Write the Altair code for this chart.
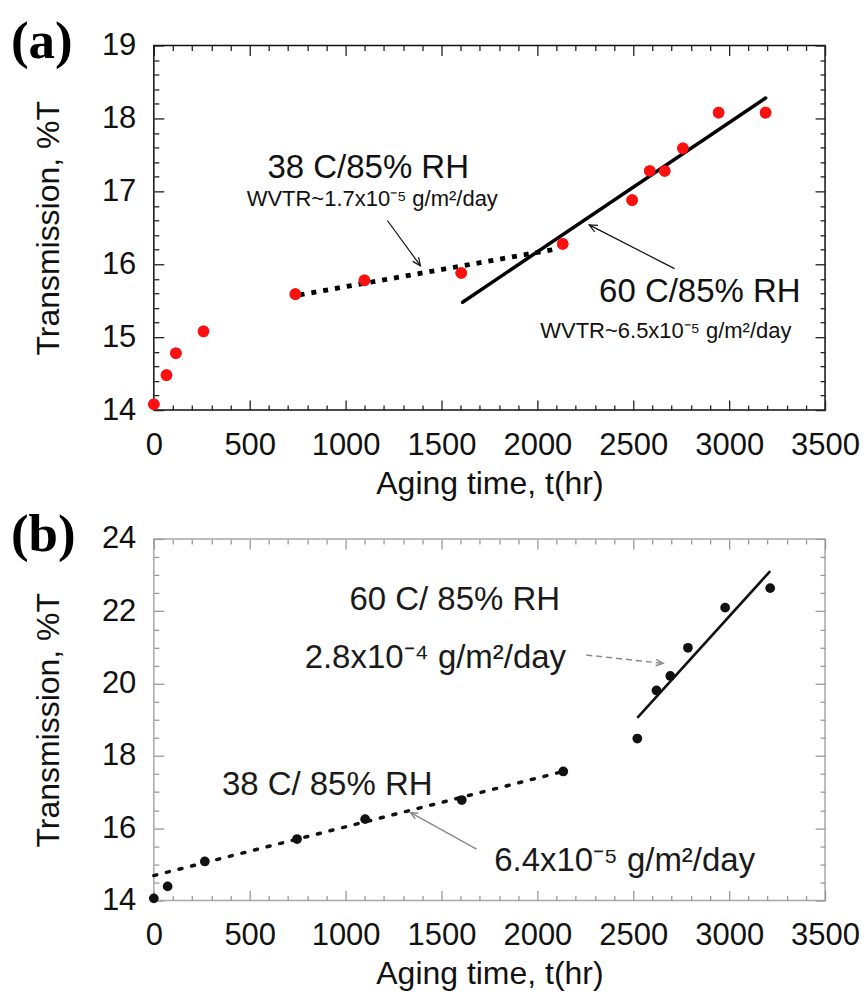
import math
import altair as alt
import pandas as pd

# ---------------- data: panel (a) ----------------
a_time = [0, 66, 115, 259, 738, 1098, 1603, 2132, 2494, 2586, 2664, 2759, 2945, 3190]
a_trans = [14.08, 14.48, 14.78, 15.08, 15.59, 15.78, 15.88, 16.28, 16.88, 17.28, 17.28, 17.59, 18.08, 18.08]
a_fit38_time = [760, 2080]
a_fit38_trans = [15.58, 16.20]
a_fit60_time = [1610, 3190]
a_fit60_trans = [15.48, 18.28]
a_big_text = ["38 C/85% RH", "60 C/85% RH"]
a_big_x = [1118, 2847]
a_big_y = [17.32, 15.62]
a_small_text = ["WVTR~1.7x10\u207b\u2075 g/m\u00b2/day", "WVTR~6.5x10\u207b\u2075 g/m\u00b2/day"]
a_small_x = [1139, 2670]
a_small_y = [16.90, 15.08]
a_arrow_from_x = [1218, 2715]
a_arrow_from_y = [16.60, 15.94]
a_arrow_to_x = [1390, 2270]
a_arrow_to_y = [15.98, 16.54]

# ---------------- data: panel (b) ----------------
b_time = [0, 72, 266, 747, 1102, 1606, 2135, 2521, 2621, 2693, 2785, 2979, 3214]
b_trans = [14.06, 14.39, 15.08, 15.70, 16.25, 16.78, 17.57, 18.48, 19.81, 20.21, 20.99, 22.10, 22.64]
b_fit38_time = [0, 2135]
b_fit38_trans = [14.69, 17.57]
b_fit60_time = [2521, 3214]
b_fit60_trans = [19.05, 23.11]
b_text = ["60 C/ 85% RH", "2.8x10\u207b\u2074 g/m\u00b2/day", "38 C/ 85% RH", "6.4x10\u207b\u2075 g/m\u00b2/day"]
b_text_x = [1569, 1468, 904, 2455]
b_text_y = [22.30, 20.70, 17.20, 15.10]
b_arrow_from_x = [2255, 1683]
b_arrow_from_y = [20.79, 15.42]
b_arrow_to_x = [2655, 1339]
b_arrow_to_y = [20.56, 16.43]

x_ticks = [0, 500, 1000, 1500, 2000, 2500, 3000, 3500]
x_minor = [100, 200, 300, 400, 600, 700, 800, 900, 1100, 1200, 1300, 1400, 1600, 1700, 1800, 1900,
           2100, 2200, 2300, 2400, 2600, 2700, 2800, 2900, 3100, 3200, 3300, 3400]
a_y_ticks = [14, 15, 16, 17, 18, 19]
a_y_minor = [14.2, 14.4, 14.6, 14.8, 15.2, 15.4, 15.6, 15.8, 16.2, 16.4, 16.6, 16.8,
             17.2, 17.4, 17.6, 17.8, 18.2, 18.4, 18.6, 18.8]
b_y_ticks = [14, 16, 18, 20, 22, 24]
b_y_minor = [14.5, 15, 15.5, 16.5, 17, 17.5, 18.5, 19, 19.5, 20.5, 21, 21.5, 22.5, 23, 23.5]

# ---------------- layout / style ----------------
W = 672
HA = 365
HB = 362
XMAX = 3500
NARROW = "Liberation Sans Narrow, Arial Narrow, Liberation Sans, sans-serif"
SANS = "Liberation Sans, Arial, Helvetica, sans-serif"
SERIF = "Liberation Serif, Times New Roman, serif"

xscale = alt.Scale(domain=[0, XMAX], nice=False, zero=False)
ya_scale = alt.Scale(domain=[14, 19], nice=False, zero=False)
yb_scale = alt.Scale(domain=[14, 24], nice=False, zero=False)

ARROW_PATH = "M -0.45 1 L 0 0 L 0.45 1"

X_AXIS = alt.Axis(values=x_ticks, title="Aging time, t(hr)", format="d", labelPadding=20,
                  titlePadding=8, labelFlush=False, labelOverlap=False)
YA_AXIS = alt.Axis(values=a_y_ticks, title="Transmission, %T", format="d", labelPadding=18,
                   titlePadding=36, labelFlush=False, labelOverlap=False)
YB_AXIS = alt.Axis(values=b_y_ticks, title="Transmission, %T", format="d", labelPadding=18,
                   titlePadding=36, labelFlush=False, labelOverlap=False)


def tick_axis(orient, values, size, color):
    """Ticks-only axis pulled inside the frame, so its ticks point inward."""
    return alt.Axis(orient=orient, values=values, labels=False, ticks=True, tickSize=size,
                    offset=-size, domain=False, grid=False, title=None,
                    tickColor=color, tickWidth=1.3)


def X(field, axis=None):
    if axis is None:
        return alt.X(field, type="quantitative", scale=xscale, axis=None)
    return alt.X(field, type="quantitative", scale=xscale, axis=axis)


def Y(field, yscale, axis=None):
    if axis is None:
        return alt.Y(field, type="quantitative", scale=yscale, axis=None)
    return alt.Y(field, type="quantitative", scale=yscale, axis=axis)


def tick_layers(df, yscale, ymaj, ymin_list, color):
    specs = [
        ("bottom", x_ticks, "left", ymaj, 10),
        ("bottom", x_minor, "left", ymin_list, 5),
        ("top", x_ticks, "right", ymaj, 10),
        ("top", x_minor, "right", ymin_list, 5),
    ]
    out = []
    for xo, xv, yo, yv, sz in specs:
        out.append(
            alt.Chart(df).mark_circle(opacity=0, size=1).encode(
                x=X("t", tick_axis(xo, xv, sz, color)),
                y=Y("T", yscale, tick_axis(yo, yv, sz, color))))
    return out


def arrows(fx, fy, tx, ty, yspan, H):
    rows_line = []
    rows_head = []
    sx = W / XMAX
    sy = H / yspan
    for i in range(len(fx)):
        rows_line.append({"id": i, "o": 0, "x": fx[i], "y": fy[i]})
        rows_line.append({"id": i, "o": 1, "x": tx[i], "y": ty[i]})
        dxp = (tx[i] - fx[i]) * sx
        dyp = -(ty[i] - fy[i]) * sy
        ang = math.degrees(math.atan2(dxp, -dyp)) % 360
        rows_head.append({"x": tx[i], "y": ty[i], "angle": ang})
    return pd.DataFrame(rows_line), pd.DataFrame(rows_head)


# ---------------- panel (a) ----------------
pa = pd.DataFrame({"t": a_time, "T": a_trans})
fa38 = pd.DataFrame({"t": a_fit38_time, "T": a_fit38_trans})
fa60 = pd.DataFrame({"t": a_fit60_time, "T": a_fit60_trans})
ta_big = pd.DataFrame({"x": a_big_x, "y": a_big_y, "s": a_big_text})
ta_small = pd.DataFrame({"x": a_small_x, "y": a_small_y, "s": a_small_text})
la, ha = arrows(a_arrow_from_x, a_arrow_from_y, a_arrow_to_x, a_arrow_to_y, 5, HA)


def YA(field):
    return Y(field, ya_scale)


a_layers = [
    alt.Chart(pa).mark_circle(color="#ff1010", size=135, opacity=1).encode(
        x=X("t", X_AXIS), y=Y("T", ya_scale, YA_AXIS)),
]
a_layers += tick_layers(pa, ya_scale, a_y_ticks, a_y_minor, "#222222")
a_layers += [
    alt.Chart(fa38).mark_line(color="black", strokeWidth=4.8, strokeDash=[5, 7]).encode(
        x=X("t"), y=YA("T")),
    alt.Chart(fa60).mark_line(color="black", strokeWidth=3.5, strokeCap="round").encode(
        x=X("t"), y=YA("T")),
    alt.Chart(la).mark_line(color="#111111", strokeWidth=1.2).encode(
        x=X("x"), y=YA("y"), detail="id:N", order="o:Q"),
    alt.Chart(ha).mark_point(shape=ARROW_PATH, filled=False, color="#111111", size=260,
                             strokeWidth=1.2, opacity=1).encode(
        x=X("x"), y=YA("y"), angle=alt.Angle("angle:Q", scale=None)),
    alt.Chart(pa).mark_circle(color="#ff1010", size=135, opacity=1).encode(
        x=X("t"), y=YA("T")),
    alt.Chart(ta_big).mark_text(font=NARROW, fontSize=33, color="#111111").encode(
        x=X("x"), y=YA("y"), text="s:N"),
    alt.Chart(ta_small).mark_text(font=NARROW, fontSize=22, color="#111111").encode(
        x=X("x"), y=YA("y"), text="s:N"),
    alt.Chart(pd.DataFrame({"s": ["(a)"]})).mark_text(
        font=SERIF, fontWeight="bold", fontSize=53, align="left", baseline="middle", color="black").encode(
        x=alt.value(-143), y=alt.value(-4), text="s:N"),
]
chart_a = alt.layer(*a_layers).resolve_axis(x="independent", y="independent").properties(
    width=W, height=HA, view=alt.ViewBackground(stroke="#111111", strokeWidth=1.5))

# ---------------- panel (b) ----------------
pb = pd.DataFrame({"t": b_time, "T": b_trans})
fb38 = pd.DataFrame({"t": b_fit38_time, "T": b_fit38_trans})
fb60 = pd.DataFrame({"t": b_fit60_time, "T": b_fit60_trans})
tb = pd.DataFrame({"x": b_text_x, "y": b_text_y, "s": b_text})
lb, hb = arrows(b_arrow_from_x, b_arrow_from_y, b_arrow_to_x, b_arrow_to_y, 10, HB)
lb_dash = lb[lb["id"] == 0]
lb_solid = lb[lb["id"] == 1]


def YB(field):
    return Y(field, yb_scale)


b_layers = [
    alt.Chart(pb).mark_circle(color="#111111", size=95, opacity=1).encode(
        x=X("t", X_AXIS), y=Y("T", yb_scale, YB_AXIS)),
]
b_layers += tick_layers(pb, yb_scale, b_y_ticks, b_y_minor, "#9a9a9a")
b_layers += [
    alt.Chart(fb38).mark_line(color="#111111", strokeWidth=3.5, strokeDash=[3, 10], strokeCap="round").encode(
        x=X("t"), y=YB("T")),
    alt.Chart(fb60).mark_line(color="#111111", strokeWidth=2.6).encode(
        x=X("t"), y=YB("T")),
    alt.Chart(lb_dash).mark_line(color="#8a8a8a", strokeWidth=1.5, strokeDash=[6, 4]).encode(
        x=X("x"), y=YB("y"), order="o:Q"),
    alt.Chart(lb_solid).mark_line(color="#8a8a8a", strokeWidth=1.5).encode(
        x=X("x"), y=YB("y"), order="o:Q"),
    alt.Chart(hb).mark_point(shape=ARROW_PATH, filled=False, color="#8a8a8a", size=200,
                             strokeWidth=1.5, opacity=1).encode(
        x=X("x"), y=YB("y"), angle=alt.Angle("angle:Q", scale=None)),
    alt.Chart(tb).mark_text(font=NARROW, fontSize=33, color="#1a1a1a").encode(
        x=X("x"), y=YB("y"), text="s:N"),
    alt.Chart(pd.DataFrame({"s": ["(b)"]})).mark_text(
        font=SERIF, fontWeight="bold", fontSize=53, align="left", baseline="middle", color="black").encode(
        x=alt.value(-143), y=alt.value(-4), text="s:N"),
]
chart_b = alt.layer(*b_layers).resolve_axis(x="independent", y="independent").properties(
    width=W, height=HB, view=alt.ViewBackground(stroke="#a8a8a8", strokeWidth=1.5))

chart = alt.vconcat(chart_a, chart_b, spacing=8).properties(
    padding={"left": 10, "top": 14, "right": 5, "bottom": 2}
).configure_axis(
    grid=False, domain=False, ticks=False,
    labelFont=NARROW, labelFontSize=31, labelColor="#111111",
    titleFont=SANS, titleFontSize=32, titleFontWeight="normal", titleColor="#111111",
).configure_view(stroke="#111111")

chart.save("out.html", embed_options={"renderer": "svg", "actions": False})
